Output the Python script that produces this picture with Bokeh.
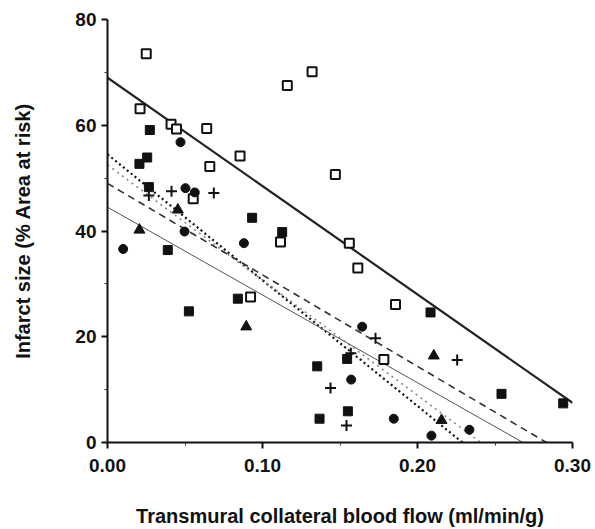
from bokeh.embed import file_html
from bokeh.models import FixedTicker, PrintfTickFormatter, Range1d
from bokeh.plotting import figure
from bokeh.resources import INLINE

# Collateral blood flow (ml/min/g) versus infarct size (% of area at risk)
open_sq_x = [0.025, 0.021, 0.041, 0.0445, 0.064, 0.0855, 0.066, 0.0553, 0.116,
             0.132, 0.147, 0.1116, 0.156, 0.1615, 0.0923, 0.1858, 0.1783]
open_sq_y = [73.5, 63.1, 60.2, 59.3, 59.4, 54.2, 52.2, 46.1, 67.5,
             70.1, 50.7, 37.9, 37.7, 33.0, 27.5, 26.1, 15.7]

filled_sq_x = [0.0273, 0.0256, 0.0206, 0.0267, 0.0933, 0.1127, 0.0389, 0.0841,
               0.0525, 0.2084, 0.1546, 0.1353, 0.1551, 0.1368, 0.2542, 0.2940]
filled_sq_y = [59.1, 53.9, 52.7, 48.3, 42.5, 39.8, 36.4, 27.2,
               24.8, 24.6, 15.8, 14.4, 5.9, 4.5, 9.2, 7.4]

circle_x = [0.0471, 0.0503, 0.0563, 0.0497, 0.0880, 0.0101, 0.1643, 0.1572,
            0.1847, 0.2090, 0.2335]
circle_y = [56.8, 48.1, 47.3, 39.9, 37.7, 36.6, 21.9, 11.9, 4.5, 1.3, 2.4]

tri_x = [0.0454, 0.0206, 0.0895, 0.2105, 0.2155]
tri_y = [44.0, 40.2, 21.9, 16.4, 4.2]

plus_x = [0.0267, 0.0413, 0.0686, 0.1729, 0.157, 0.1439, 0.1542, 0.2256]
plus_y = [46.7, 47.5, 47.2, 19.7, 16.9, 10.3, 3.2, 15.6]

# Regression lines: y = intercept + slope * x
fit_intercept = [69.0, 54.5, 52.5, 49.0, 44.5]
fit_slope = [-205.0, -238.0, -218.0, -173.0, -166.0]

x_ticks = [0.0, 0.1, 0.2, 0.3]
x_minor = [0.05, 0.15, 0.25]
y_ticks = [0, 20, 40, 60, 80]
y_minor = [10, 30, 50, 70]

X_MAX = 0.30
FONT = "Liberation Sans"

p = figure(width=595, height=529, output_backend="svg", toolbar_location=None,
           x_range=Range1d(0, X_MAX), y_range=Range1d(0, 80),
           min_border_left=107, min_border_right=23,
           min_border_top=19, min_border_bottom=87)
p.outline_line_color = None
p.grid.visible = False
p.background_fill_color = "white"
p.border_fill_color = "white"

line_styles = [
    dict(line_color="#222222", line_width=2.2, line_dash="solid"),
    dict(line_color="#111111", line_width=2.2, line_dash="2 3"),
    dict(line_color="#888888", line_width=1.6, line_dash="2 4"),
    dict(line_color="#333333", line_width=1.6, line_dash="7 5"),
    dict(line_color="#555555", line_width=1.0, line_dash="solid"),
]
for b0, b1, style in zip(fit_intercept, fit_slope, line_styles):
    x_end = min(X_MAX, -b0 / b1)
    p.line([0.0, x_end], [b0, b0 + b1 * x_end], **style)

ink = "#111111"
p.scatter(open_sq_x, open_sq_y, marker="square", size=9, fill_color="white",
          line_color=ink, line_width=2)
p.scatter(filled_sq_x, filled_sq_y, marker="square", size=9, fill_color=ink,
          line_color=ink)
p.scatter(circle_x, circle_y, marker="circle", size=9, fill_color=ink,
          line_color=ink)
p.scatter(tri_x, tri_y, marker="triangle", size=11, fill_color=ink,
          line_color=ink)
p.scatter(plus_x, plus_y, marker="cross", size=11, line_color=ink,
          line_width=2)

for ax in (p.xaxis[0], p.yaxis[0]):
    ax.axis_line_width = 2
    ax.axis_line_color = "#111111"
    ax.major_tick_line_width = 2
    ax.major_tick_line_color = "#111111"
    ax.major_tick_out = 6
    ax.major_tick_in = 0
    ax.minor_tick_line_color = "#333333"
    ax.minor_tick_out = 3
    ax.minor_tick_in = 0
    ax.major_label_text_font = FONT
    ax.major_label_text_font_style = "bold"
    ax.major_label_text_font_size = "19px"
    ax.major_label_text_color = "#111111"
    ax.axis_label_text_font = FONT
    ax.axis_label_text_font_style = "bold"
    ax.axis_label_text_font_size = "20px"
    ax.axis_label_text_color = "#111111"

p.xaxis.ticker = FixedTicker(ticks=x_ticks, minor_ticks=x_minor)
p.xaxis.formatter = PrintfTickFormatter(format="%.2f")
p.xaxis.major_label_standoff = 10
p.xaxis.axis_label = "Transmural collateral blood flow (ml/min/g)"
p.xaxis.axis_label_standoff = 30

p.yaxis.ticker = FixedTicker(ticks=y_ticks, minor_ticks=y_minor)
p.yaxis.major_label_standoff = 5
p.yaxis.axis_label = "Infarct size (% Area at risk)"
p.yaxis.axis_label_standoff = 38

open("out.html", "w").write(file_html(p, INLINE))
